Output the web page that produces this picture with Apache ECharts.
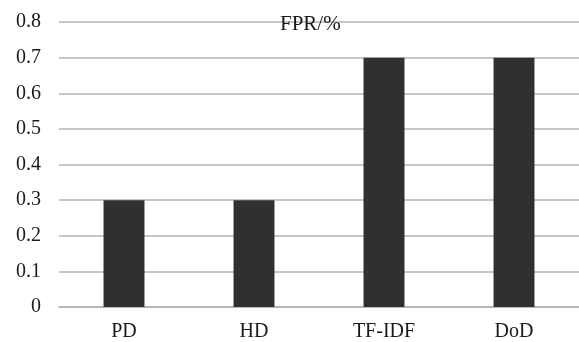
<!DOCTYPE html>
<html>
<head>
<meta charset="utf-8">
<script src="https://cdn.jsdelivr.net/npm/echarts@6/dist/echarts.min.js"></script>
<style>html,body{margin:0;padding:0;background:#fff;}#c{width:579px;height:342px;}</style>
</head>
<body>
<div id="c"></div>
<script>
const categories = ['PD', 'HD', 'TF-IDF', 'DoD'];
const fprValues = [0.3, 0.3, 0.7, 0.7];
const chartTitle = 'FPR/%';

const font = 'Liberation Serif';
const chart = echarts.init(document.getElementById('c'), null, {renderer: 'canvas'});
chart.setOption({
  animation: false,
  backgroundColor: '#ffffff',
  title: {
    text: chartTitle,
    left: 275,
    top: 9,
    textStyle: {fontFamily: font, fontSize: 21, fontWeight: 'normal', color: '#1a1a1a'}
  },
  grid: {left: 59, right: 0, top: 22, bottom: 32},
  xAxis: {
    type: 'category',
    data: categories,
    axisLine: {lineStyle: {color: '#b3b3b3', width: 1.5}},
    axisTick: {show: false},
    axisLabel: {fontFamily: font, fontSize: 20, color: '#1a1a1a', margin: 15}
  },
  yAxis: {
    type: 'value',
    min: 0, max: 0.8, interval: 0.1,
    axisLine: {show: false},
    axisTick: {show: false},
    axisLabel: {fontFamily: font, fontSize: 20, color: '#1a1a1a', margin: 18,
      formatter: v => v === 0 ? '0' : v.toFixed(1)},
    splitLine: {lineStyle: {color: '#b3b3b3', width: 1.5}}
  },
  series: [{
    type: 'bar',
    data: fprValues,
    barWidth: '31.5%',
    itemStyle: {color: '#303030'}
  }]
});
</script>
</body>
</html>
